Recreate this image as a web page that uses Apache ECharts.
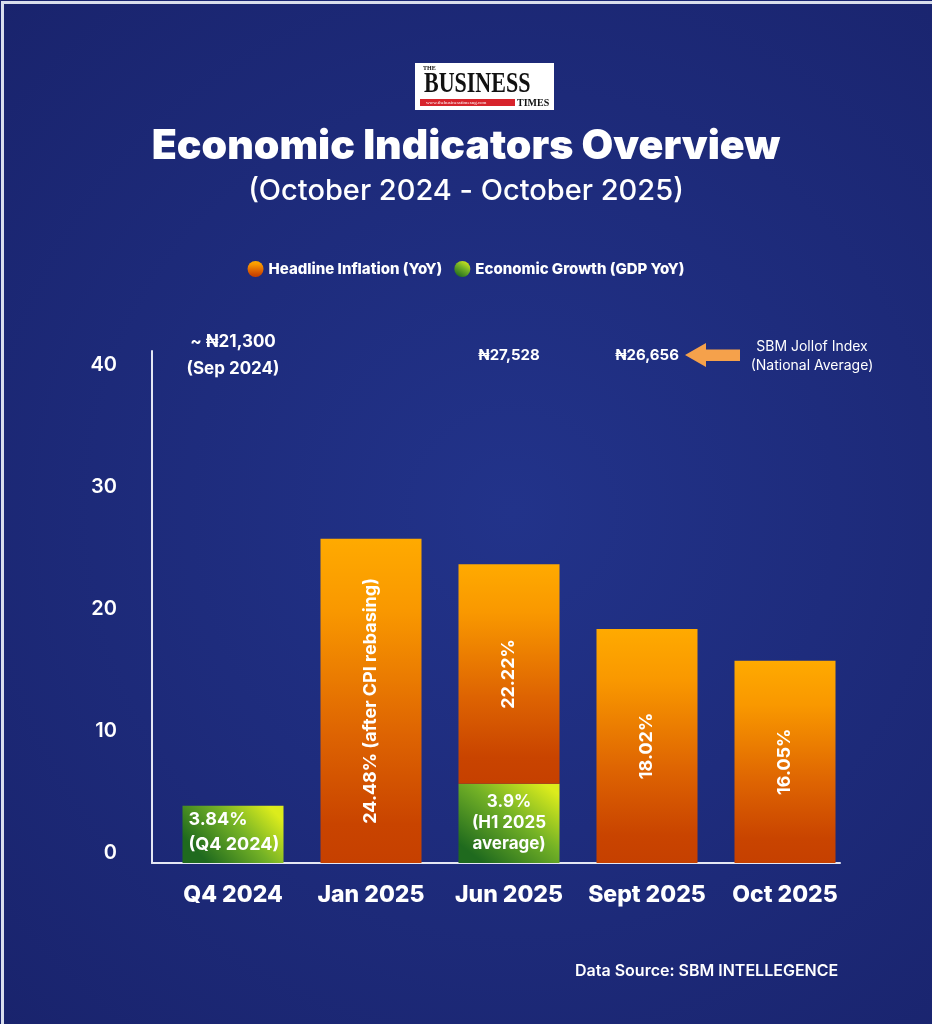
<!DOCTYPE html>
<html><head><meta charset="utf-8">
<script src="https://cdn.jsdelivr.net/npm/echarts@6/dist/echarts.min.js"></script>
<style>html,body{margin:0;padding:0;background:#19246f}#c{width:932px;height:1024px}</style>
</head><body><div id="c"></div>
<script>
// ---- data ----
const categories = ['Q4 2024', 'Jan 2025', 'Jun 2025', 'Sept 2025', 'Oct 2025'];
const growthValues = [4.7, null, 6.5, null, null];          // green bars (drawn height)
const inflationValues = [null, 26.6, 18.0, 19.2, 16.6];      // orange bars (drawn height)
const inflationLabels = ['', '24.48% (after CPI rebasing)', '22.22%', '18.02%', '16.05%'];
const growthLabels = ['3.84%\n(Q4 2024)', '', '3.9%\n(H1 2025\naverage)', '', ''];
const jollofCategories = ['Q4 2024', 'Jun 2025', 'Sept 2025'];
const jollofValues = [21300, 27528, 26656];
const jollofPrefix = ['~ ', '', ''];
const jollofNotes = ['(Sep 2024)', '', ''];
const yMin = 0, yMax = 42, yInterval = 10;

const FONT = 'Inter, "Noto Sans", "DejaVu Sans", sans-serif';
const WHITE = '#ffffff';
const jollofRowY = 41.6;

const orangeGrad = new echarts.graphic.LinearGradient(0, 0, 0, 1, [
  { offset: 0, color: '#ffaa00' },
  { offset: 0.22, color: '#f99800' },
  { offset: 0.6, color: '#de6402' },
  { offset: 0.88, color: '#c94400' },
  { offset: 1, color: '#c64000' }
]);
const greenGrad = new echarts.graphic.LinearGradient(0.85, 0, 0.25, 1, [
  { offset: 0, color: '#dcec1c' },
  { offset: 0.45, color: '#74b226' },
  { offset: 1, color: '#1f6a1e' }
]);

const growthData = growthValues.map((v, i) => {
  const item = { value: v };
  if (i === 0) {
    item.label = { position: 'insideBottomLeft', align: 'left', distance: 6, lineHeight: 25, fontSize: 18 };
  } else {
    item.label = { position: 'inside', lineHeight: 21, fontSize: 17 };
  }
  return item;
});

const jollofData = jollofCategories.map((c, i) => ({
  value: [c, jollofRowY, jollofValues[i]],
  label: i === 0 ? { fontSize: 17, lineHeight: 27 } : { fontSize: 15 }
}));

const chart = echarts.init(document.getElementById('c'), null, { renderer: 'canvas' });
chart.setOption({
  backgroundColor: {
    type: 'radial', x: 0.55, y: 0.5, r: 0.8,
    colorStops: [{ offset: 0, color: '#22338a' }, { offset: 1, color: '#19236c' }]
  },
  textStyle: { fontFamily: FONT },
  title: [
    { text: 'Economic Indicators Overview', left: 'center', top: 121,
      textStyle: { color: WHITE, fontSize: 41, fontWeight: 900, fontFamily: FONT } },
    { text: '(October 2024 - October 2025)', left: 'center', top: 172,
      textStyle: { color: WHITE, fontSize: 29, fontWeight: 500, fontFamily: FONT } }
  ],
  legend: {
    data: ['Headline Inflation (YoY)', 'Economic Growth (GDP YoY)'],
    top: 256, left: 'center', icon: 'circle', itemWidth: 16, itemHeight: 16, itemGap: 12,
    textStyle: { color: WHITE, fontSize: 15, fontWeight: 800, fontFamily: FONT }
  },
  grid: [
    { left: 152, width: 688, top: 351, bottom: 161 },
    { left: 164, width: 690, top: 351, bottom: 161 }
  ],
  xAxis: [
    { gridIndex: 0, type: 'category', data: categories,
      axisLine: { show: true, lineStyle: { color: '#e4e7f3', width: 2 } },
      axisTick: { show: false }, axisLabel: { show: false } },
    { gridIndex: 1, type: 'category', data: categories,
      axisLine: { show: false }, axisTick: { show: false },
      axisLabel: { interval: 0, hideOverlap: false, color: WHITE, fontSize: 23, fontWeight: 800, margin: 21, fontFamily: FONT } }
  ],
  yAxis: [
    { gridIndex: 0, type: 'value', min: yMin, max: yMax, interval: yInterval,
      axisLine: { show: true, lineStyle: { color: '#e4e7f3', width: 2 } },
      axisTick: { show: false }, splitLine: { show: false },
      axisLabel: { color: WHITE, fontSize: 20, fontWeight: 600, margin: 35, showMaxLabel: false,
                   verticalAlign: 'bottom', lineHeight: 20, fontFamily: FONT } },
    { gridIndex: 1, type: 'value', min: yMin, max: yMax, interval: yInterval, show: false,
      splitLine: { show: false } }
  ],
  series: [
    { name: 'Economic Growth (GDP YoY)', type: 'bar', xAxisIndex: 1, yAxisIndex: 1, stack: 'all',
      barWidth: 101, data: growthData,
      itemStyle: { color: greenGrad },
      label: { show: true, color: WHITE, fontWeight: 700, fontFamily: FONT,
               formatter: p => growthLabels[p.dataIndex] } },
    { name: 'Headline Inflation (YoY)', type: 'bar', xAxisIndex: 1, yAxisIndex: 1, stack: 'all',
      barWidth: 101, data: inflationValues,
      itemStyle: { color: orangeGrad },
      label: { show: true, position: 'inside', rotate: 90, color: WHITE, fontSize: 18, fontWeight: 700,
               fontFamily: FONT, formatter: p => inflationLabels[p.dataIndex] } },
    { name: 'Jollof', type: 'scatter', xAxisIndex: 1, yAxisIndex: 1, symbolSize: 1, silent: true,
      data: jollofData,
      itemStyle: { opacity: 1, color: 'rgba(0,0,0,0)' },
      label: { show: true, opacity: 1, position: 'inside', color: WHITE, fontWeight: 700, fontFamily: FONT,
               formatter: p => {
                 const i = p.dataIndex;
                 const txt = jollofPrefix[i] + '\u20A6' + jollofValues[i].toLocaleString('en-US');
                 return jollofNotes[i] ? txt + '\n' + jollofNotes[i] : txt;
               } } }
  ],
  graphic: [
    { type: 'rect', left: 0, top: 0, shape: { width: 932, height: 1024 }, silent: true,
      style: { fill: 'none', stroke: '#d9deec', lineWidth: 3 } },
    // logo
    { type: 'rect', left: 415, top: 63, shape: { width: 139, height: 47 },
      style: { fill: '#ffffff' } },
    { type: 'text', left: 423, top: 65, style: { text: 'THE', fill: '#111', font: 'bold 6px "Liberation Serif", serif' } },
    { type: 'text', x: 424, y: 69, scaleY: 1.35,
      style: { text: 'BUSINESS', fill: '#111', font: 'bold 22px "Liberation Serif", "DejaVu Serif", serif' } },
    { type: 'rect', left: 420, top: 99, shape: { width: 95, height: 7 }, style: { fill: '#d7232b' } },
    { type: 'text', left: 426, top: 100, style: { text: 'www.thebusinesstimesng.com', fill: '#fff', font: '5px serif' } },
    { type: 'text', left: 517, top: 98, style: { text: 'TIMES', fill: '#111', font: 'bold 10px "Liberation Serif", serif' } },
    // jollof arrow + caption
    { type: 'polygon', shape: { points: [[685, 355], [706, 343], [706, 349.5], [740, 349.5], [740, 361], [706, 361], [706, 367]] },
      style: { fill: '#f5a14b' } },
    { type: 'text', x: 812, y: 356, style: { text: 'SBM Jollof Index\n(National Average)', fill: WHITE,
      font: '400 14px ' + FONT, align: 'center', verticalAlign: 'middle', lineHeight: 19 } },
    { type: 'text', left: 575, top: 963, style: { text: 'Data Source: SBM INTELLEGENCE', fill: WHITE,
      font: '600 16px ' + FONT } }
  ]
});
</script></body></html>
